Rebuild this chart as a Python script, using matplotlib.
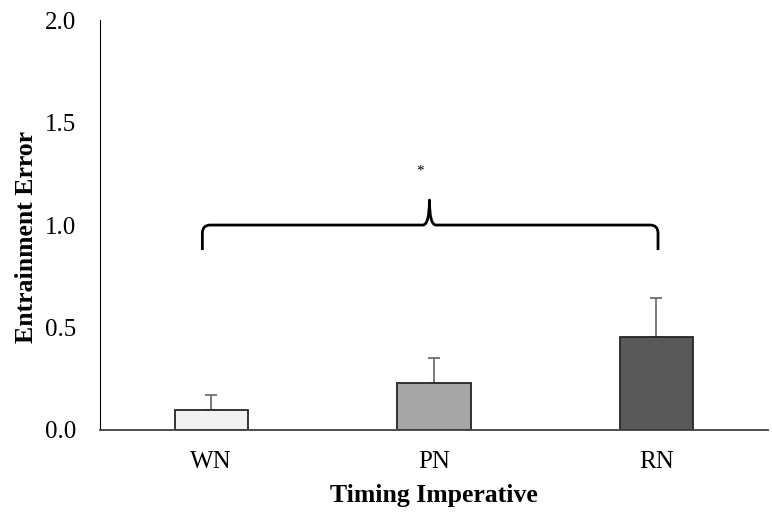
import matplotlib
matplotlib.use('Agg')
import matplotlib.pyplot as plt
from matplotlib.path import Path
from matplotlib.patches import PathPatch

plt.rcParams['font.family'] = ['Liberation Serif', 'DejaVu Serif']

categories = ['WN', 'PN', 'RN']
means = [0.098, 0.23, 0.455]
errors = [0.072, 0.123, 0.19]
colors = ['#f2f2f2', '#a6a6a6', '#595959']

fig = plt.figure(figsize=(7.72, 5.13), dpi=100)
ax = fig.add_axes([0.1295, 0.1618, 0.865, 0.799])

x = range(len(categories))
ax.bar(x, means, width=0.33, color=colors, edgecolor='#262626', linewidth=1.3,
       zorder=2)
ax.errorbar(x, means, yerr=[[0, 0, 0], errors], fmt='none', ecolor='#707070',
            elinewidth=1.3, capsize=4, capthick=1.3, zorder=1)

# curly brace spanning all groups
x0, x1, xm = -0.04, 2.007, 0.98
yb, yh, yp = 0.878, 1.0, 1.122
r = 0.035
verts = [(x0, yb), (x0, yh - 0.04), (x0, yh), (x0 + r, yh),
         (xm - 0.03, yh), (xm, yh), (xm, yp),
         (xm, yh), (xm + 0.03, yh),
         (x1 - r, yh), (x1, yh), (x1, yh - 0.04), (x1, yb)]
codes = [Path.MOVETO, Path.LINETO, Path.CURVE3, Path.CURVE3,
         Path.LINETO, Path.CURVE3, Path.CURVE3,
         Path.CURVE3, Path.CURVE3,
         Path.LINETO, Path.CURVE3, Path.CURVE3, Path.LINETO]
ax.add_patch(PathPatch(Path(verts, codes), fill=False, lw=2, color='black',
                       capstyle='butt', joinstyle='round', zorder=3))
ax.text(0.94, 1.265, '*', ha='center', va='center', fontsize=11)

ax.set_xlim(-0.5, 2.5)
ax.set_ylim(0, 2.0)
ax.set_yticks([0.0, 0.5, 1.0, 1.5, 2.0])
ax.set_yticklabels(['0.0', '0.5', '1.0', '1.5', '2.0'])
ax.set_xticks(list(x))
ax.set_xticklabels(categories)
ax.tick_params(axis='both', length=0, labelsize=18)
ax.tick_params(axis='y', pad=17)
ax.tick_params(axis='x', pad=15)

ax.spines['top'].set_visible(False)
ax.spines['right'].set_visible(False)
ax.spines['left'].set_color('black')
ax.spines['bottom'].set_color('#404040')
ax.spines['bottom'].set_linewidth(1.3)

ax.set_xlabel('Timing Imperative', fontsize=18.5, fontweight='bold',
              labelpad=8)
ax.set_ylabel('Entrainment Error', fontsize=18.5, fontweight='bold')
ax.yaxis.set_label_coords(-0.093, 0.47)

fig.savefig('out.png', dpi=100)
